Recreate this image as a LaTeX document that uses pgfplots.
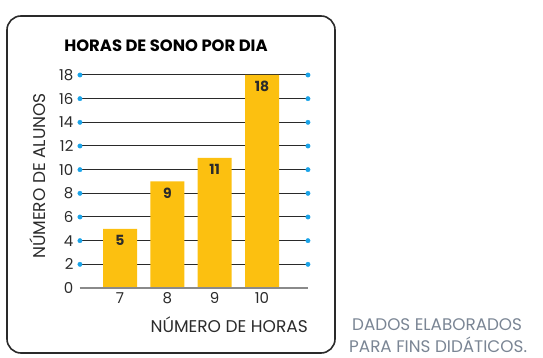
\documentclass[border=0pt]{standalone}
\usepackage{pgfplots}
\pgfplotsset{compat=1.18}
\usepackage{fontspec}
\setmainfont{Poppins}
\definecolor{baryellow}{HTML}{FCC010}
\definecolor{dotblue}{HTML}{1AA3E8}
\definecolor{boxgray}{HTML}{2A2A2A}
\definecolor{txt}{HTML}{2B2B2B}
\definecolor{srcgray}{HTML}{7A8594}
\definecolor{basegray}{HTML}{8A8A8A}
\begin{document}
\begin{tikzpicture}
\useasboundingbox (0pt,0pt) rectangle (543pt,358pt);
\draw[line width=1.6pt, color=boxgray, rounded corners=14pt] (7pt,5pt) rectangle (335pt,342pt);
\node[font=\bfseries\fontsize{16.4}{18}\selectfont, text=black] at (166pt,312pt) {HORAS DE SONO POR DIA};
\node[rotate=90, font=\fontsize{17}{19}\selectfont, text=txt] at (38pt,182pt) {NÚMERO DE ALUNOS};
\node[anchor=base east, inner sep=0pt, font=\fontsize{17}{19}\selectfont, text=txt] at (308pt,25pt) {NÚMERO DE HORAS};
\node[anchor=base west, inner sep=0pt, font=\fontsize{16.8}{19}\selectfont, text=srcgray] at (352pt,27pt) {DADOS ELABORADOS};
\node[anchor=base west, inner sep=0pt, font=\fontsize{16.8}{19}\selectfont, text=srcgray] at (349pt,5.5pt) {PARA FINS DIDÁTICOS.};
\begin{axis}[
  at={(120pt,70pt)}, anchor=origin, scale only axis,
  width=228pt, height=213pt,
  xmin=-0.846, xmax=3.97, ymin=0, ymax=18,
  axis line style={draw=none},
  ytick={0,2,...,18},
  xtick={0,1,2,3}, xticklabels={7,8,9,10},
  major tick length=0pt,
  ymajorgrids,
  grid style={color=boxgray, line width=1pt},
  clip=false,
  /pgf/number format/assume math mode=true,
  tick label style={font=\fontsize{15}{17}\selectfont, text=txt},
  yticklabel style={xshift=-3pt},
  xticklabel style={yshift=-1pt},
]
\addplot[ybar, bar width=34pt, fill=baryellow, draw=none,
  nodes near coords,
  nodes near coords style={anchor=north, inner sep=0pt, yshift=-6pt, font=\bfseries\fontsize{14}{16}\selectfont, text=txt}]
  coordinates {(0,5) (1,9) (2,11) (3,18)};
\draw[basegray, line width=2pt] (axis cs:-0.846,0) -- (axis cs:3.97,0);
\addplot[only marks, mark=*, mark size=2.2pt, color=dotblue] coordinates {
  (-0.846,2) (-0.846,4) (-0.846,6) (-0.846,8) (-0.846,10) (-0.846,12) (-0.846,14) (-0.846,16) (-0.846,18)
  (3.97,2) (3.97,4) (3.97,6) (3.97,8) (3.97,10) (3.97,12) (3.97,14) (3.97,16) (3.97,18)};
\end{axis}
\end{tikzpicture}
\end{document}
